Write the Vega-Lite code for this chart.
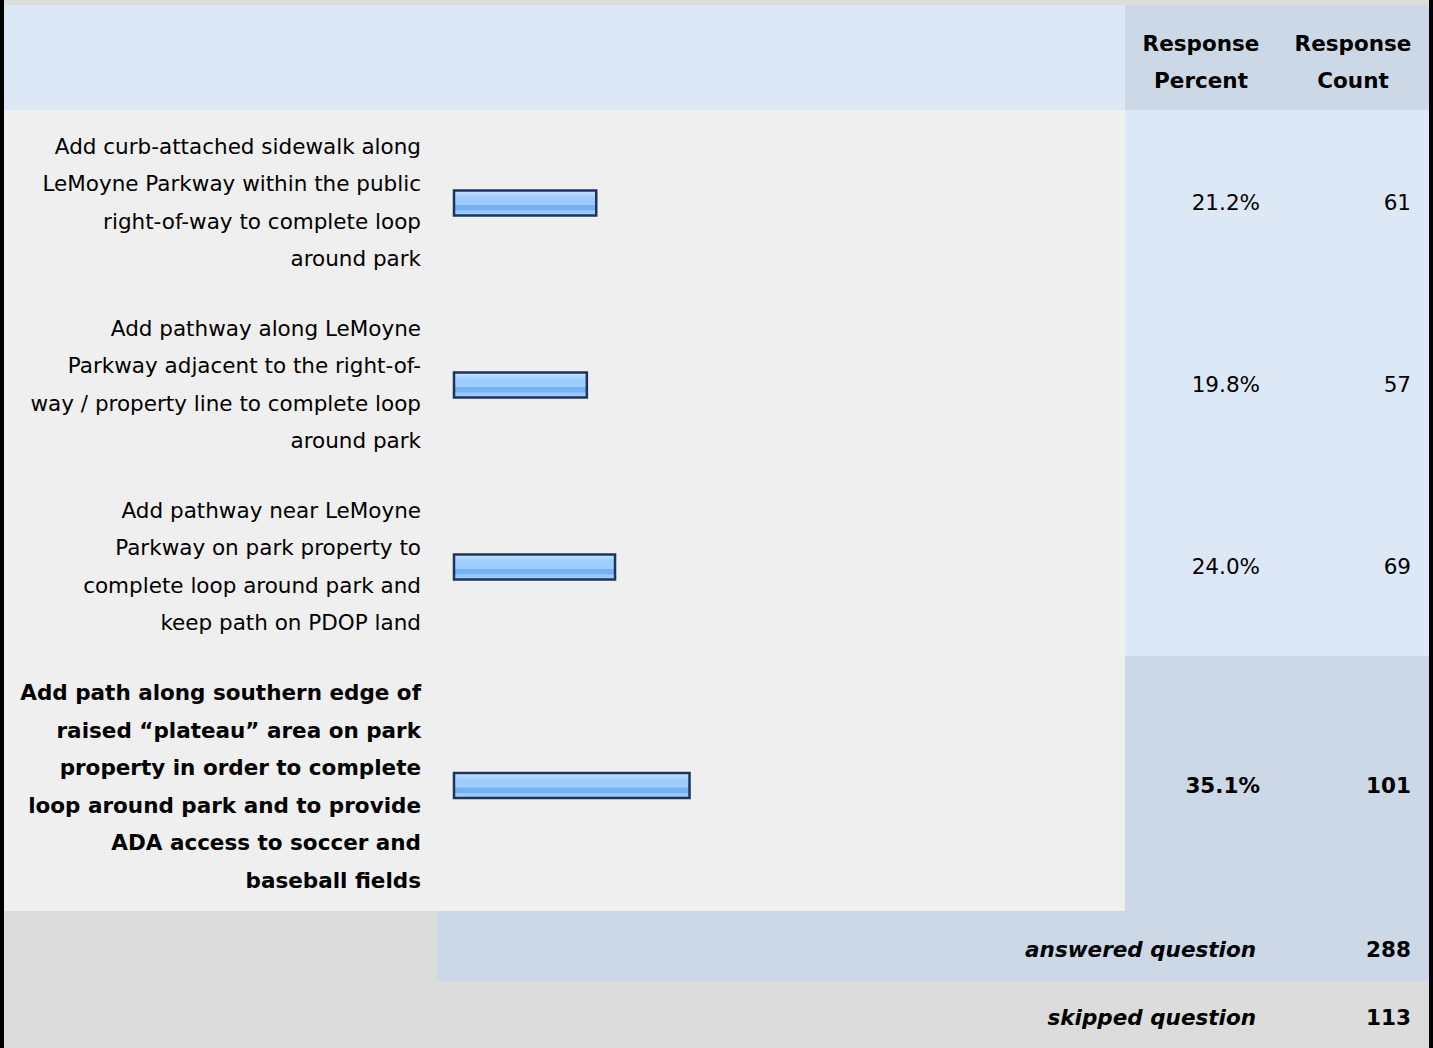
{
  "$schema": "https://vega.github.io/schema/vega-lite/v6.json",
  "background": "#000000",
  "padding": {"left": 4, "right": 4, "top": 0, "bottom": 0},
  "spacing": 0,
  "config": {
    "view": {"stroke": null},
    "concat": {"spacing": 0},
    "font": "DejaVu Sans",
    "text": {"font": "DejaVu Sans", "fontSize": 21.5, "color": "#000000"}
  },
  "datasets": {
    "columns": [
      {"key": "percent", "title": "Response\nPercent"},
      {"key": "count", "title": "Response\nCount"}
    ],
    "responses": [
      {"id": 1, "choice": "Add curb-attached sidewalk along\nLeMoyne Parkway within the public\nright-of-way to complete loop\naround park", "percent": 0.212, "count": 61},
      {"id": 2, "choice": "Add pathway along LeMoyne\nParkway adjacent to the right-of-\nway / property line to complete loop\naround park", "percent": 0.198, "count": 57},
      {"id": 3, "choice": "Add pathway near LeMoyne\nParkway on park property to\ncomplete loop around park and\nkeep path on PDOP land", "percent": 0.240, "count": 69},
      {"id": 4, "choice": "Add path along southern edge of\nraised “plateau” area on park\nproperty in order to complete\nloop around park and to provide\nADA access to soccer and\nbaseball fields", "percent": 0.351, "count": 101}
    ],
    "summary": [
      {"label": "answered question", "value": 288},
      {"label": "skipped question", "value": 113}
    ]
  },
  "vconcat": [
    {"width": 1425, "height": 5, "view": {"fill": "#dcdcdc"}, "mark": {"type": "text"}, "encoding": {"text": {"value": ""}}},
    {"hconcat": [
      {"width": 1121, "height": 105, "view": {"fill": "#dde8f6"}, "mark": {"type": "text"}, "encoding": {"text": {"value": ""}}},
      {"width": 152, "height": 105, "view": {"fill": "#ccd8e6"}, "data": {"name": "columns"}, "transform": [{"filter": "datum.key == 'percent'"}],
       "mark": {"type": "text", "align": "center", "baseline": "middle", "fontWeight": "bold", "lineBreak": "\n", "lineHeight": 37, "dy": -12.5},
       "encoding": {"text": {"field": "title", "type": "nominal"}}},
      {"width": 152, "height": 105, "view": {"fill": "#ccd8e6"}, "data": {"name": "columns"}, "transform": [{"filter": "datum.key == 'count'"}],
       "mark": {"type": "text", "align": "center", "baseline": "middle", "fontWeight": "bold", "lineBreak": "\n", "lineHeight": 37, "dy": -12.5},
       "encoding": {"text": {"field": "title", "type": "nominal"}}}
    ], "spacing": 0, "bounds": "flush"},
    {"hconcat": [
      {"width": 450, "height": 182, "view": {"fill": "#efefef"}, "data": {"name": "responses"}, "transform": [{"filter": "datum.id == 1"}],
       "mark": {"type": "text", "align": "right", "baseline": "middle", "lineBreak": "\n", "lineHeight": 37.5, "dx": -33, "dy": -53.5},
       "encoding": {"x": {"value": "width"}, "text": {"field": "choice", "type": "nominal"}}},
      {"width": 671, "height": 182, "view": {"fill": "#efefef"}, "data": {"name": "responses"}, "transform": [{"filter": "datum.id == 1"}],
       "mark": {"type": "bar", "height": 25, "yOffset": 2, "stroke": "#1c355a", "strokeWidth": 2.5,
         "fill": {"gradient": "linear", "x1": 0, "y1": 0, "x2": 0, "y2": 1, "stops": [{"offset": 0, "color": "#cfe6ff"}, {"offset": 0.18, "color": "#aad4ff"}, {"offset": 0.3, "color": "#9dccff"}, {"offset": 0.57, "color": "#9dccff"}, {"offset": 0.6, "color": "#78b1f2"}, {"offset": 0.78, "color": "#78b1f2"}, {"offset": 0.81, "color": "#98c8ff"}, {"offset": 1, "color": "#a0ceff"}]}},
       "encoding": {"x": {"field": "percent", "type": "quantitative", "scale": {"domain": [0, 1]}, "axis": null}, "y": {"field": "choice", "type": "nominal", "axis": null}}},
      {"width": 152, "height": 182, "view": {"fill": "#dde8f6"}, "data": {"name": "responses"}, "transform": [{"filter": "datum.id == 1"}],
       "mark": {"type": "text", "align": "right", "baseline": "middle", "dx": -17, "dy": 3},
       "encoding": {"x": {"value": "width"}, "text": {"field": "percent", "type": "quantitative", "format": ".1%"}}},
      {"width": 152, "height": 182, "view": {"fill": "#dde8f6"}, "data": {"name": "responses"}, "transform": [{"filter": "datum.id == 1"}],
       "mark": {"type": "text", "align": "right", "baseline": "middle", "dx": -18, "dy": 3},
       "encoding": {"x": {"value": "width"}, "text": {"field": "count", "type": "quantitative"}}}
    ], "spacing": 0, "bounds": "flush"},
    {"hconcat": [
      {"width": 450, "height": 182, "view": {"fill": "#efefef"}, "data": {"name": "responses"}, "transform": [{"filter": "datum.id == 2"}],
       "mark": {"type": "text", "align": "right", "baseline": "middle", "lineBreak": "\n", "lineHeight": 37.5, "dx": -33, "dy": -53.5},
       "encoding": {"x": {"value": "width"}, "text": {"field": "choice", "type": "nominal"}}},
      {"width": 671, "height": 182, "view": {"fill": "#efefef"}, "data": {"name": "responses"}, "transform": [{"filter": "datum.id == 2"}],
       "mark": {"type": "bar", "height": 25, "yOffset": 2, "stroke": "#1c355a", "strokeWidth": 2.5,
         "fill": {"gradient": "linear", "x1": 0, "y1": 0, "x2": 0, "y2": 1, "stops": [{"offset": 0, "color": "#cfe6ff"}, {"offset": 0.18, "color": "#aad4ff"}, {"offset": 0.3, "color": "#9dccff"}, {"offset": 0.57, "color": "#9dccff"}, {"offset": 0.6, "color": "#78b1f2"}, {"offset": 0.78, "color": "#78b1f2"}, {"offset": 0.81, "color": "#98c8ff"}, {"offset": 1, "color": "#a0ceff"}]}},
       "encoding": {"x": {"field": "percent", "type": "quantitative", "scale": {"domain": [0, 1]}, "axis": null}, "y": {"field": "choice", "type": "nominal", "axis": null}}},
      {"width": 152, "height": 182, "view": {"fill": "#dde8f6"}, "data": {"name": "responses"}, "transform": [{"filter": "datum.id == 2"}],
       "mark": {"type": "text", "align": "right", "baseline": "middle", "dx": -17, "dy": 3},
       "encoding": {"x": {"value": "width"}, "text": {"field": "percent", "type": "quantitative", "format": ".1%"}}},
      {"width": 152, "height": 182, "view": {"fill": "#dde8f6"}, "data": {"name": "responses"}, "transform": [{"filter": "datum.id == 2"}],
       "mark": {"type": "text", "align": "right", "baseline": "middle", "dx": -18, "dy": 3},
       "encoding": {"x": {"value": "width"}, "text": {"field": "count", "type": "quantitative"}}}
    ], "spacing": 0, "bounds": "flush"},
    {"hconcat": [
      {"width": 450, "height": 182, "view": {"fill": "#efefef"}, "data": {"name": "responses"}, "transform": [{"filter": "datum.id == 3"}],
       "mark": {"type": "text", "align": "right", "baseline": "middle", "lineBreak": "\n", "lineHeight": 37.5, "dx": -33, "dy": -53.5},
       "encoding": {"x": {"value": "width"}, "text": {"field": "choice", "type": "nominal"}}},
      {"width": 671, "height": 182, "view": {"fill": "#efefef"}, "data": {"name": "responses"}, "transform": [{"filter": "datum.id == 3"}],
       "mark": {"type": "bar", "height": 25, "yOffset": 2, "stroke": "#1c355a", "strokeWidth": 2.5,
         "fill": {"gradient": "linear", "x1": 0, "y1": 0, "x2": 0, "y2": 1, "stops": [{"offset": 0, "color": "#cfe6ff"}, {"offset": 0.18, "color": "#aad4ff"}, {"offset": 0.3, "color": "#9dccff"}, {"offset": 0.57, "color": "#9dccff"}, {"offset": 0.6, "color": "#78b1f2"}, {"offset": 0.78, "color": "#78b1f2"}, {"offset": 0.81, "color": "#98c8ff"}, {"offset": 1, "color": "#a0ceff"}]}},
       "encoding": {"x": {"field": "percent", "type": "quantitative", "scale": {"domain": [0, 1]}, "axis": null}, "y": {"field": "choice", "type": "nominal", "axis": null}}},
      {"width": 152, "height": 182, "view": {"fill": "#dde8f6"}, "data": {"name": "responses"}, "transform": [{"filter": "datum.id == 3"}],
       "mark": {"type": "text", "align": "right", "baseline": "middle", "dx": -17, "dy": 3},
       "encoding": {"x": {"value": "width"}, "text": {"field": "percent", "type": "quantitative", "format": ".1%"}}},
      {"width": 152, "height": 182, "view": {"fill": "#dde8f6"}, "data": {"name": "responses"}, "transform": [{"filter": "datum.id == 3"}],
       "mark": {"type": "text", "align": "right", "baseline": "middle", "dx": -18, "dy": 3},
       "encoding": {"x": {"value": "width"}, "text": {"field": "count", "type": "quantitative"}}}
    ], "spacing": 0, "bounds": "flush"},
    {"hconcat": [
      {"width": 450, "height": 255, "view": {"fill": "#efefef"}, "data": {"name": "responses"}, "transform": [{"filter": "datum.id == 4"}],
       "mark": {"type": "text", "align": "right", "baseline": "middle", "lineBreak": "\n", "lineHeight": 37.5, "dx": -33, "dy": -89.5, "fontWeight": "bold"},
       "encoding": {"x": {"value": "width"}, "text": {"field": "choice", "type": "nominal"}}},
      {"width": 671, "height": 255, "view": {"fill": "#efefef"}, "data": {"name": "responses"}, "transform": [{"filter": "datum.id == 4"}],
       "mark": {"type": "bar", "height": 25, "yOffset": 2, "stroke": "#1c355a", "strokeWidth": 2.5,
         "fill": {"gradient": "linear", "x1": 0, "y1": 0, "x2": 0, "y2": 1, "stops": [{"offset": 0, "color": "#cfe6ff"}, {"offset": 0.18, "color": "#aad4ff"}, {"offset": 0.3, "color": "#9dccff"}, {"offset": 0.57, "color": "#9dccff"}, {"offset": 0.6, "color": "#78b1f2"}, {"offset": 0.78, "color": "#78b1f2"}, {"offset": 0.81, "color": "#98c8ff"}, {"offset": 1, "color": "#a0ceff"}]}},
       "encoding": {"x": {"field": "percent", "type": "quantitative", "scale": {"domain": [0, 1]}, "axis": null}, "y": {"field": "choice", "type": "nominal", "axis": null}}},
      {"width": 152, "height": 255, "view": {"fill": "#ccd8e6"}, "data": {"name": "responses"}, "transform": [{"filter": "datum.id == 4"}],
       "mark": {"type": "text", "align": "right", "baseline": "middle", "dx": -17, "dy": 3, "fontWeight": "bold"},
       "encoding": {"x": {"value": "width"}, "text": {"field": "percent", "type": "quantitative", "format": ".1%"}}},
      {"width": 152, "height": 255, "view": {"fill": "#ccd8e6"}, "data": {"name": "responses"}, "transform": [{"filter": "datum.id == 4"}],
       "mark": {"type": "text", "align": "right", "baseline": "middle", "dx": -18, "dy": 3, "fontWeight": "bold"},
       "encoding": {"x": {"value": "width"}, "text": {"field": "count", "type": "quantitative"}}}
    ], "spacing": 0, "bounds": "flush"},
    {"hconcat": [
      {"width": 433, "height": 70, "view": {"fill": "#dcdcdc"}, "mark": {"type": "text"}, "encoding": {"text": {"value": ""}}},
      {"width": 840, "height": 70, "view": {"fill": "#ccd8e6"}, "data": {"name": "summary"}, "transform": [{"filter": "datum.label == 'answered question'"}],
       "mark": {"type": "text", "align": "right", "baseline": "middle", "dx": -21, "dy": 5, "fontWeight": "bold", "fontStyle": "italic"},
       "encoding": {"x": {"value": "width"}, "text": {"field": "label", "type": "nominal"}}},
      {"width": 152, "height": 70, "view": {"fill": "#ccd8e6"}, "data": {"name": "summary"}, "transform": [{"filter": "datum.label == 'answered question'"}],
       "mark": {"type": "text", "align": "right", "baseline": "middle", "dx": -18, "dy": 5, "fontWeight": "bold"},
       "encoding": {"x": {"value": "width"}, "text": {"field": "value", "type": "quantitative"}}}
    ], "spacing": 0, "bounds": "flush"},
    {"hconcat": [
      {"width": 1273, "height": 67, "view": {"fill": "#dcdcdc"}, "data": {"name": "summary"}, "transform": [{"filter": "datum.label == 'skipped question'"}],
       "mark": {"type": "text", "align": "right", "baseline": "middle", "dx": -21, "dy": 4, "fontWeight": "bold", "fontStyle": "italic"},
       "encoding": {"x": {"value": "width"}, "text": {"field": "label", "type": "nominal"}}},
      {"width": 152, "height": 67, "view": {"fill": "#dcdcdc"}, "data": {"name": "summary"}, "transform": [{"filter": "datum.label == 'skipped question'"}],
       "mark": {"type": "text", "align": "right", "baseline": "middle", "dx": -18, "dy": 4, "fontWeight": "bold"},
       "encoding": {"x": {"value": "width"}, "text": {"field": "value", "type": "quantitative"}}}
    ], "spacing": 0, "bounds": "flush"}
  ]
}
